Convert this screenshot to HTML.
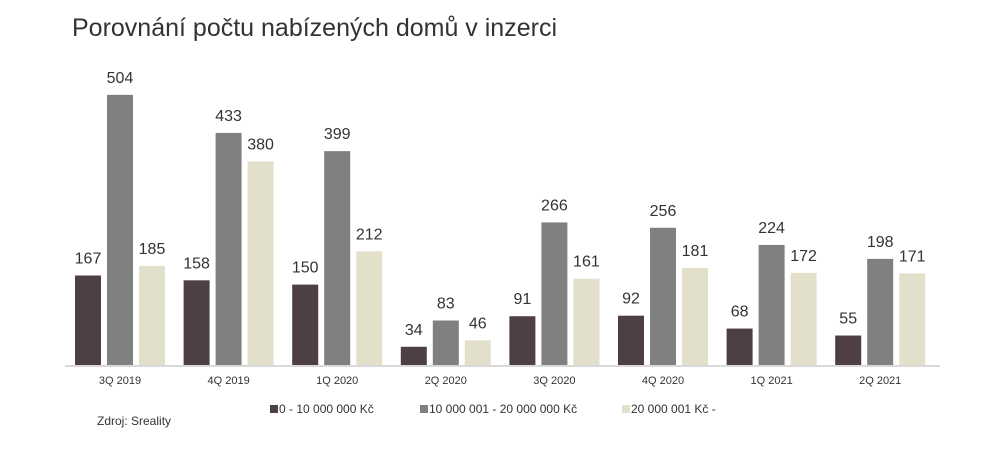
<!DOCTYPE html>
<html><head><meta charset="utf-8">
<style>
body{margin:0;background:#fff;width:1000px;height:447px;overflow:hidden;font-family:"Liberation Sans",sans-serif;}
svg text{font-family:"Liberation Sans",sans-serif;}
</style></head>
<body>
<svg id="chart" width="1000" height="447">
<text x="72" y="36" font-size="25" fill="#333">Porovnání počtu nabízených domů v inzerci</text>
<line x1="65" y1="366" x2="940" y2="366" stroke="#d9d9d9" stroke-width="2"/>
<text x="97" y="425" font-size="12" fill="#333">Zdroj: Sreality</text>
<g>
<rect x="270" y="405" width="8" height="8" fill="#4e3f44"/>
<text x="279" y="413" font-size="12" fill="#333">0 - 10 000 000 Kč</text>
<rect x="420" y="405" width="8" height="8" fill="#808080"/>
<text x="429" y="413" font-size="12" fill="#333">10 000 001 - 20 000 000 Kč</text>
<rect x="622" y="405" width="8" height="8" fill="#e2dfcb"/>
<text x="631" y="413" font-size="12" fill="#333">20 000 001 Kč -</text>
</g>
</svg>
<script>
const categories=["3Q 2019","4Q 2019","1Q 2020","2Q 2020","3Q 2020","4Q 2020","1Q 2021","2Q 2021"];
const seriesLow=[167,158,150,34,91,92,68,55];
const seriesMid=[504,433,399,83,266,256,224,198];
const seriesHigh=[185,380,212,46,161,181,172,171];
const svg=document.getElementById('chart');
const NS='http://www.w3.org/2000/svg';
const base=365, k=0.536, x0=75, step=108.6, bw=26, off=32;
const y=v=>base-v*k;
const gx=i=>x0+i*step;
const series=[[seriesLow,'#4e3f44','low'],[seriesMid,'#808080','mid'],[seriesHigh,'#e2dfcb','high']];
categories.forEach((c,i)=>{
  const t=document.createElementNS(NS,'text');
  
  
  t.setAttribute('x',gx(i)+off+bw/2);t.setAttribute('y',384);
  t.setAttribute('font-size','11');t.setAttribute('fill','#333');t.setAttribute('text-anchor','middle');
  t.textContent=c;svg.appendChild(t);
  series.forEach(([arr,col,nm],s)=>{
    const v=arr[i];
    const r=document.createElementNS(NS,'rect');
    
    
    r.setAttribute('x',gx(i)+s*off);r.setAttribute('y',y(v));
    r.setAttribute('width',bw);r.setAttribute('height',base-y(v));
    r.setAttribute('fill',col);svg.appendChild(r);
    const l=document.createElementNS(NS,'text');
    
    
    l.setAttribute('x',gx(i)+s*off+bw/2);l.setAttribute('y',y(v)-12);
    l.setAttribute('font-size','16');l.setAttribute('fill','#333');l.setAttribute('text-anchor','middle');
    l.textContent=v;svg.appendChild(l);
  });
});
</script>
</body></html>
